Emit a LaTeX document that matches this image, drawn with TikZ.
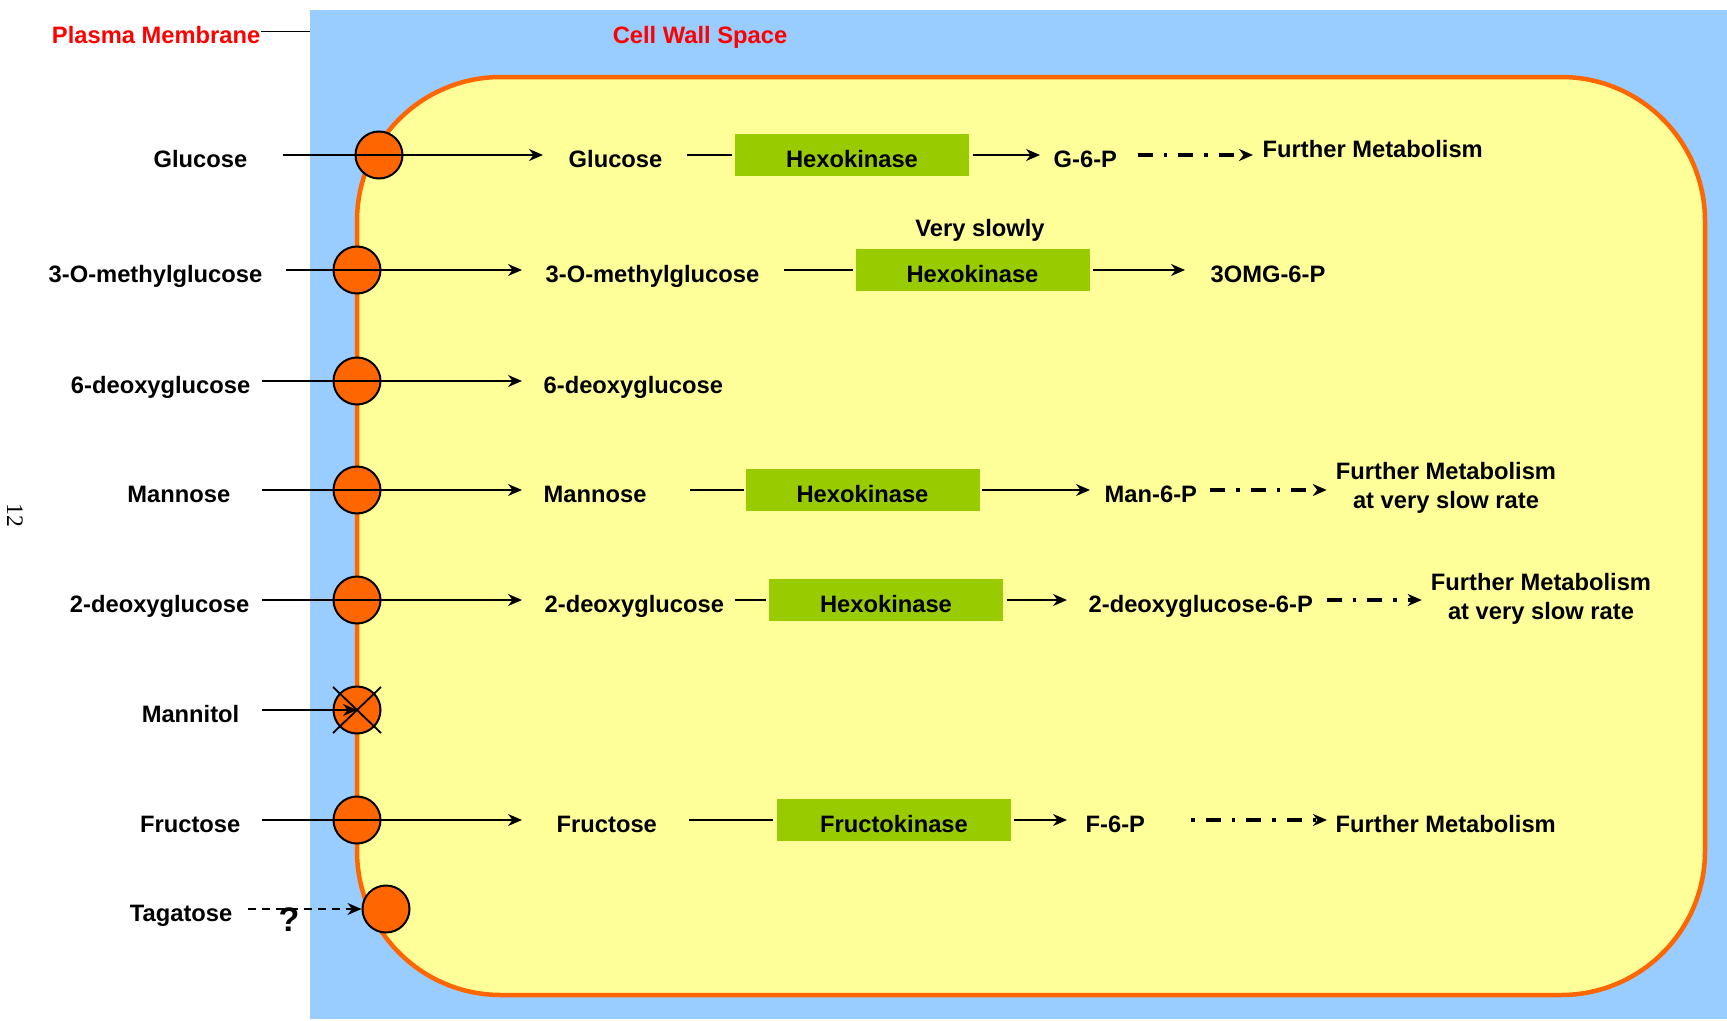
\documentclass[tikz,border=0pt]{standalone}
\usepackage{fontspec}
\setmainfont{Liberation Sans}
\newfontfamily\pagefont{Liberation Serif}
\usepackage{tikz}
\usetikzlibrary{arrows.meta}
\definecolor{wallblue}{HTML}{99CCFF}
\definecolor{cellyellow}{HTML}{FFFF99}
\definecolor{carrierorange}{HTML}{FF6600}
\definecolor{enzymegreen}{HTML}{99CC00}

\begin{document}
\begin{tikzpicture}[x=0.1mm, y=-0.1mm,
    >={Stealth[length=1.4mm, width=1.2mm, inset=0.45mm]},
    lbl/.style={font=\fontsize{6.75}{8}\selectfont\bfseries, inner sep=0pt,
      text height=2.9mm, text depth=0.5mm},
    twoline/.style={lbl, align=center, text height=, text depth=,
      font=\fontsize{6.75}{8.2}\selectfont\bfseries},
    enzyme/.style={lbl, fill=enzymegreen, minimum width=23.4mm, minimum height=4.2mm},
    carrier/.style={circle, draw, fill=carrierorange, line width=0.2mm,
      minimum size=4.7mm, inner sep=0pt},
    flow/.style={->, line width=0.18mm},
    link/.style={line width=0.18mm},
    metab/.style={->, line width=0.35mm,
      dash pattern=on 1.5mm off 1.1mm on 0.35mm off 1.1mm}]
    \useasboundingbox (0,0) rectangle (1727,1021);
    % cell wall and plasma membrane
    \fill [wallblue] (309.5,10) rectangle (1727,1019);
    \draw [carrierorange, fill=cellyellow, line width=0.45mm, rounded corners=14.4mm]
      (357,77) rectangle (1705,995);
    \node [lbl, text=red, anchor=east] (pm) at (261,31.5) {Plasma Membrane};
    \coordinate (wallEdge) at (309.5,32);
    \draw [link] (pm.east) -- (pm.east -| wallEdge);
    \node [lbl, text=red] (cws) at (700,31.5) {Cell Wall Space};
    \node [font=\pagefont\fontsize{6.75}{8}\selectfont, inner sep=0pt, rotate=-90] (pageno) at (15,515) {12};
    % transporters in the membrane
    \foreach \n/\x/\y in {t1/379/155, t2/357/270, t3/357/381, t4/357/490,
                          t5/357/600, t6/357/710, t7/357/820, t8/386/909}
      \node [carrier] (\n) at (\x,\y) {};
    % sugars outside
    \node [lbl, anchor=east] (out1) at (248,155) {Glucose};
    \node [lbl, anchor=east] (out2) at (263,270) {3-O-methylglucose};
    \node [lbl, anchor=east] (out3) at (251,381) {6-deoxyglucose};
    \node [lbl, anchor=east] (out4) at (231,490) {Mannose};
    \node [lbl, anchor=east] (out5) at (250,600) {2-deoxyglucose};
    \node [lbl, anchor=east] (out6) at (240,710) {Mannitol};
    \node [lbl, anchor=east] (out7) at (241,820) {Fructose};
    \node [lbl, anchor=east] (out8) at (233,909) {Tagatose};
    % sugars inside
    \node [lbl, anchor=west] (in1) at (568,155) {Glucose};
    \node [lbl, anchor=west] (in2) at (545,270) {3-O-methylglucose};
    \node [lbl, anchor=west] (in3) at (543,381) {6-deoxyglucose};
    \node [lbl, anchor=west] (in4) at (543,490) {Mannose};
    \node [lbl, anchor=west] (in5) at (544,600) {2-deoxyglucose};
    \node [lbl, anchor=west] (in7) at (556,820) {Fructose};
    % kinases
    \node [enzyme] (hk1) at (852,155) {Hexokinase};
    \node [enzyme] (hk2) at (972.5,270) {Hexokinase};
    \node [enzyme] (hk4) at (862.5,490) {Hexokinase};
    \node [enzyme] (hk5) at (886,600) {Hexokinase};
    \node [enzyme] (fk7) at (894,820) {Fructokinase};
    \node [lbl] (slow) at (980,224.5) {Very slowly};
    % phosphates
    \node [lbl, anchor=west] (p1) at (1053,155) {G-6-P};
    \node [lbl, anchor=west] (p2) at (1210,270) {3OMG-6-P};
    \node [lbl, anchor=west] (p4) at (1104,490) {Man-6-P};
    \node [lbl, anchor=west] (p5) at (1088,600) {2-deoxyglucose-6-P};
    \node [lbl, anchor=west] (p7) at (1085,820) {F-6-P};
    \node [lbl, anchor=west] (fm1) at (1262,145.5) {Further Metabolism};
    \node [twoline] (fm4) at (1446,488) {Further Metabolism\\at very slow rate};
    \node [twoline] (fm5) at (1541,599) {Further Metabolism\\at very slow rate};
    \node [lbl, anchor=west] (fm7) at (1335,820) {Further Metabolism};
    % uptake
    \draw [flow, shorten <=3.5mm, shorten >=2.5mm] (out1.east) -- (in1.west);
    \draw [flow, shorten <=2.3mm, shorten >=2.3mm] (out2.east) -- (in2.west);
    \draw [flow, shorten <=1.1mm, shorten >=2.1mm] (out3.east) -- (in3.west);
    \draw [flow, shorten <=3.1mm, shorten >=2.1mm] (out4.east) -- (in4.west);
    \draw [flow, shorten <=1.2mm, shorten >=2.2mm] (out5.east) -- (in5.west);
    \draw [flow, shorten <=2.1mm, shorten >=3.4mm] (out7.east) -- (in7.west);
    \draw [link] (t6.center) ++(-24,-23) -- ++(48,46) (t6.center) ++(-24,23) -- ++(48,-46);
    \draw [flow, shorten <=2.2mm] (out6.east) -- (t6.center);
    \draw [flow, dash pattern=on 0.8mm off 0.6mm, shorten <=1.5mm] (out8.east) -- (t8.west);
    \node [font=\fontsize{9.7}{11}\selectfont\bfseries, inner sep=0pt] (q) at (289,920) {?};
    % phosphorylation
    \draw [link, shorten <=2.4mm, shorten >=0.2mm] (in1.east) -- (hk1.west);
    \draw [link, shorten <=2.4mm, shorten >=0.2mm] (in2.east) -- (hk2.west);
    \draw [link, shorten <=4.3mm, shorten >=0.1mm] (in4.east) -- (hk4.west);
    \draw [link, shorten <=1.0mm, shorten >=0.2mm] (in5.east) -- (hk5.west);
    \draw [link, shorten <=3.15mm, shorten >=0.3mm] (in7.east) -- (fk7.west);
    \draw [flow, shorten <=0.3mm, shorten >=1.3mm] (hk1.east) -- (p1.west);
    \draw [flow, shorten <=0.3mm, shorten >=2.5mm] (hk2.east) -- (p2.west);
    \draw [flow, shorten <=0.2mm, shorten >=1.4mm] (hk4.east) -- (p4.west);
    \draw [flow, shorten <=0.3mm, shorten >=2.1mm] (hk5.east) -- (p5.west);
    \draw [flow, shorten <=0.2mm, shorten >=1.8mm] (fk7.east) -- (p7.west);
    % onward metabolism
    \draw [metab, shorten <=2mm, shorten >=0.9mm] (p1.east) -- (p1 -| fm1.west);
    \draw [metab, shorten <=1.25mm, shorten >=0.85mm] (p4.east) -- (p4 -| fm4.west);
    \draw [metab, shorten <=1.3mm, shorten >=0.85mm] (p5.east) -- (p5 -| fm5.west);
    \draw [metab, dash phase=2.6mm, shorten <=4.55mm, shorten >=0.8mm] (p7.east) -- (fm7.west);
\end{tikzpicture}
\end{document}
